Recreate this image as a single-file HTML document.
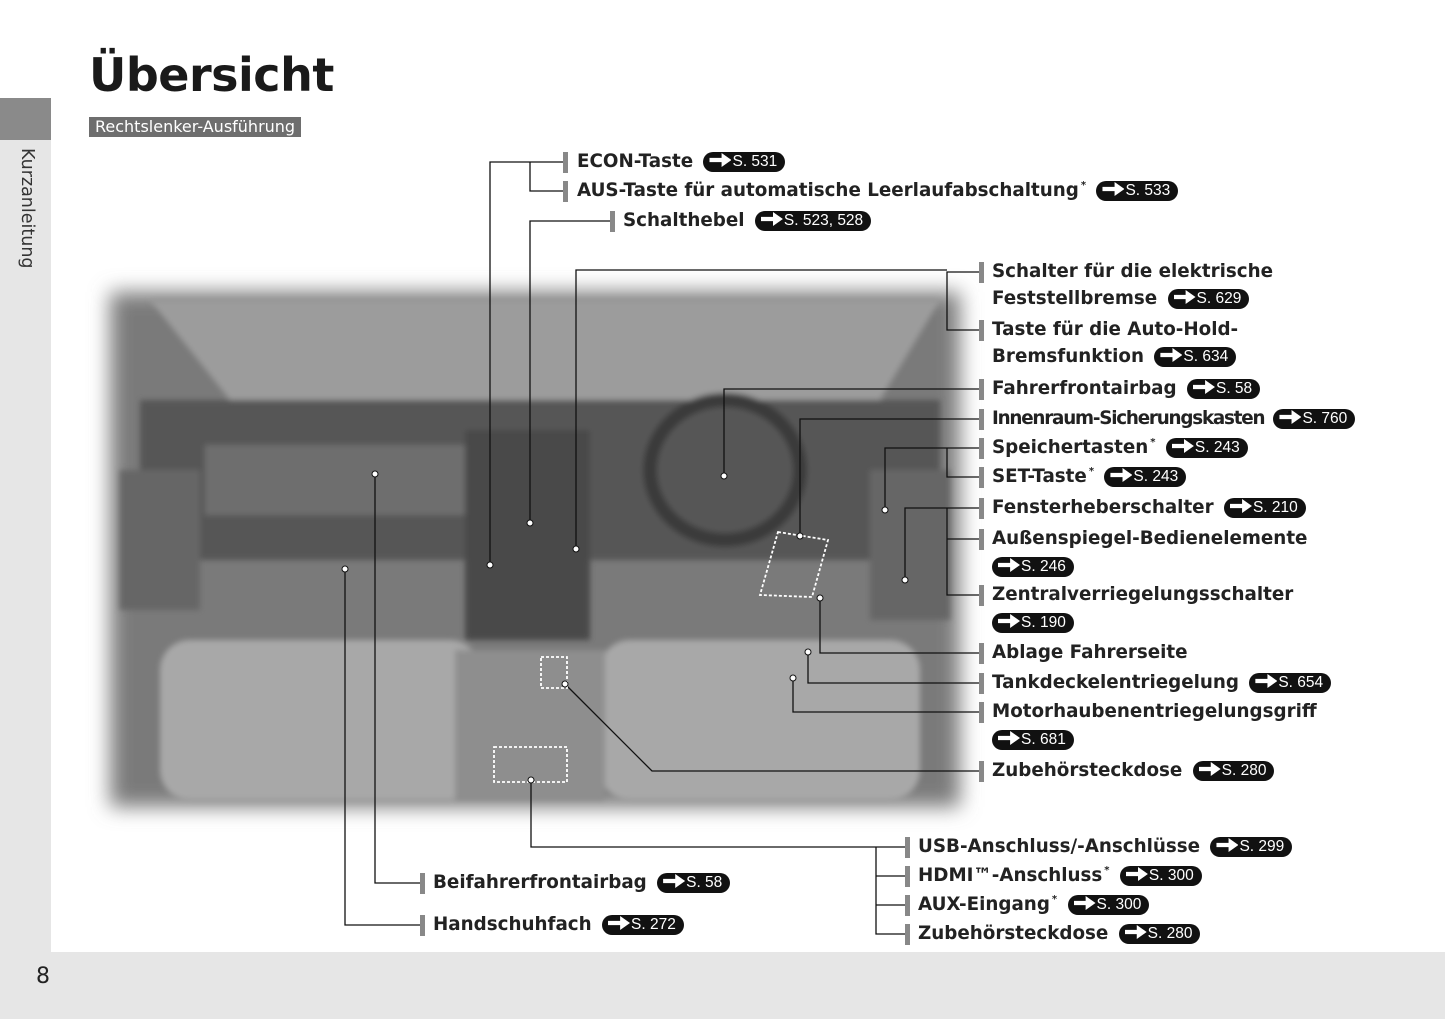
<!DOCTYPE html>
<html><head><meta charset="utf-8"><style>
body{margin:0;width:1445px;height:1019px;position:relative;background:#fff;overflow:hidden;font-family:"DejaVu Sans","Liberation Sans",sans-serif}
.t{position:absolute;font-weight:bold;font-size:18.3px;color:#222;white-space:nowrap;line-height:24px;transform:translateY(-12px)}
.bar{position:absolute;width:5px;height:21px;background:#888;transform:translateY(-10px)}
.b{display:inline-block;background:#111;color:#fff;border-radius:12px;font-weight:normal;font-size:15.5px;line-height:20px;padding:0 8px 0 6px;font-family:"Liberation Sans",sans-serif;vertical-align:1px;margin-left:4px}
.b i{font-style:normal;display:inline-block;width:22px;height:14px;background:#fff;clip-path:polygon(0 35%,55% 35%,55% 0,100% 50%,55% 100%,55% 65%,0 65%);margin-right:1px;vertical-align:-1px;border-radius:3px}
sup{font-size:10px;vertical-align:8px;margin-left:2px;line-height:0}
</style></head><body>
<div style="position:absolute;left:0;top:98px;width:51px;height:855px;background:#e6e6e6"></div>
<div style="position:absolute;left:0;top:98px;width:51px;height:42px;background:#8a8a8a"></div>
<div style="position:absolute;left:26px;top:148px;transform-origin:0 0;transform:rotate(90deg) translateY(-11px);font-size:17.5px;color:#333;font-family:'DejaVu Sans',sans-serif">Kurzanleitung</div>
<div style="position:absolute;left:0;top:952px;width:1445px;height:67px;background:#e6e6e6"></div>
<div style="position:absolute;left:36px;top:964px;font-size:22px;color:#222">8</div>
<div style="position:absolute;left:89px;top:48px;font-size:46px;font-weight:bold;color:#1a1a1a;letter-spacing:-0.5px">Übersicht</div>
<div style="position:absolute;left:89px;top:117px;width:212px;height:20px;background:#6e6e6e;color:#fff;font-size:16px;line-height:20px;padding-left:6px;box-sizing:border-box;white-space:nowrap">Rechtslenker-Ausführung</div>

<svg style="position:absolute;left:0;top:0" width="1445" height="1019">
<defs><filter id="bl"><feGaussianBlur stdDeviation="10"/></filter><filter id="b2"><feGaussianBlur stdDeviation="3"/></filter></defs>
<g filter="url(#bl)">
<rect x="110" y="292" width="850" height="515" fill="#7a7a7a"/>
</g>
<g filter="url(#b2)">
<path d="M150 300 L940 300 L880 400 L230 400 Z" fill="#9c9c9c"/>
<rect x="140" y="400" width="800" height="160" fill="#565656"/>
<rect x="205" y="445" width="265" height="70" fill="#6e6e6e"/>
<rect x="465" y="430" width="125" height="210" fill="#4a4a4a"/>
<ellipse cx="725" cy="470" rx="75" ry="70" fill="none" stroke="#3a3a3a" stroke-width="14"/>
<rect x="160" y="640" width="320" height="160" rx="30" fill="#a8a8a8"/>
<rect x="600" y="640" width="320" height="160" rx="30" fill="#a8a8a8"/>
<rect x="455" y="650" width="150" height="150" fill="#8e8e8e"/>
<rect x="120" y="470" width="80" height="140" fill="#666"/>
<rect x="870" y="470" width="80" height="150" fill="#666"/>
</g>
<g fill="none" stroke="#111" stroke-width="1.3">
<path d="M565 162H490V565M530 162V191H565M612 221H530V523"/>
<path d="M981 272H947V330H981M947 270H576V549"/>
<path d="M981 389H724V476M981 419H800V536"/>
<path d="M981 448H947V477H981M947 448H885V510"/>
<path d="M981 508H905V580M981 539H947V595H981M947 508V539"/>
<path d="M981 653H820V598M981 683H808V652M981 712H793V678M981 771H652L565 684"/>
<path d="M907 847H876V934H907M876 876H907M876 905H907M876 847H531V780"/>
<path d="M422 883H375V474M422 925H345V569"/>
</g>
<g fill="none" stroke="#fff" stroke-width="1.8" stroke-dasharray="3,2">
<rect x="541" y="657" width="26" height="31"/>
<rect x="494" y="747" width="73" height="35"/>
<path d="M778 532L828 540L812 597L760 595Z"/>
</g>
<g fill="#fff" stroke="#111" stroke-width="1">
<circle cx="490" cy="565" r="3"/><circle cx="530" cy="523" r="3"/><circle cx="576" cy="549" r="3"/>
<circle cx="724" cy="476" r="3"/><circle cx="800" cy="536" r="3"/><circle cx="885" cy="510" r="3"/>
<circle cx="905" cy="580" r="3"/><circle cx="820" cy="598" r="3"/><circle cx="808" cy="652" r="3"/>
<circle cx="793" cy="678" r="3"/><circle cx="565" cy="684" r="3"/><circle cx="531" cy="780" r="3"/>
<circle cx="375" cy="474" r="3"/><circle cx="345" cy="569" r="3"/>
</g>
</svg>

<div class="bar" style="left:563px;top:162px"></div><div class="t" style="left:577px;top:162px">ECON-Taste <span class="b"><i></i>S. 531</span></div>
<div class="bar" style="left:563px;top:191px"></div><div class="t" style="left:577px;top:191px">AUS-Taste für automatische Leerlaufabschaltung<sup>*</sup> <span class="b"><i></i>S. 533</span></div>
<div class="bar" style="left:610px;top:221px"></div><div class="t" style="left:623px;top:221px">Schalthebel <span class="b"><i></i>S. 523, 528</span></div>

<div class="bar" style="left:979px;top:272px"></div><div class="t" style="left:992px;top:272px">Schalter für die elektrische</div>
<div class="t" style="left:992px;top:299px">Feststellbremse <span class="b"><i></i>S. 629</span></div>
<div class="bar" style="left:979px;top:330px"></div><div class="t" style="left:992px;top:330px">Taste für die Auto-Hold-</div>
<div class="t" style="left:992px;top:357px">Bremsfunktion <span class="b"><i></i>S. 634</span></div>
<div class="bar" style="left:979px;top:389px"></div><div class="t" style="left:992px;top:389px">Fahrerfrontairbag <span class="b"><i></i>S. 58</span></div>
<div class="bar" style="left:979px;top:419px"></div><div class="t" style="left:992px;top:419px;letter-spacing:-1.2px">Innenraum-Sicherungskasten <span class="b" style="letter-spacing:0"><i></i>S. 760</span></div>
<div class="bar" style="left:979px;top:448px"></div><div class="t" style="left:992px;top:448px">Speichertasten<sup>*</sup> <span class="b"><i></i>S. 243</span></div>
<div class="bar" style="left:979px;top:477px"></div><div class="t" style="left:992px;top:477px">SET-Taste<sup>*</sup> <span class="b"><i></i>S. 243</span></div>
<div class="bar" style="left:979px;top:508px"></div><div class="t" style="left:992px;top:508px">Fensterheberschalter <span class="b"><i></i>S. 210</span></div>
<div class="bar" style="left:979px;top:539px"></div><div class="t" style="left:992px;top:539px">Außenspiegel-Bedienelemente</div>
<div class="t" style="left:988px;top:567px"><span class="b"><i></i>S. 246</span></div>
<div class="bar" style="left:979px;top:595px"></div><div class="t" style="left:992px;top:595px">Zentralverriegelungsschalter</div>
<div class="t" style="left:988px;top:623px"><span class="b"><i></i>S. 190</span></div>
<div class="bar" style="left:979px;top:653px"></div><div class="t" style="left:992px;top:653px">Ablage Fahrerseite</div>
<div class="bar" style="left:979px;top:683px"></div><div class="t" style="left:992px;top:683px">Tankdeckelentriegelung <span class="b"><i></i>S. 654</span></div>
<div class="bar" style="left:979px;top:712px"></div><div class="t" style="left:992px;top:712px">Motorhaubenentriegelungsgriff</div>
<div class="t" style="left:988px;top:740px"><span class="b"><i></i>S. 681</span></div>
<div class="bar" style="left:979px;top:771px"></div><div class="t" style="left:992px;top:771px">Zubehörsteckdose <span class="b"><i></i>S. 280</span></div>

<div class="bar" style="left:905px;top:847px"></div><div class="t" style="left:918px;top:847px">USB-Anschluss/-Anschlüsse <span class="b"><i></i>S. 299</span></div>
<div class="bar" style="left:905px;top:876px"></div><div class="t" style="left:918px;top:876px">HDMI™-Anschluss<sup>*</sup> <span class="b"><i></i>S. 300</span></div>
<div class="bar" style="left:905px;top:905px"></div><div class="t" style="left:918px;top:905px">AUX-Eingang<sup>*</sup> <span class="b"><i></i>S. 300</span></div>
<div class="bar" style="left:905px;top:934px"></div><div class="t" style="left:918px;top:934px">Zubehörsteckdose <span class="b"><i></i>S. 280</span></div>
<div class="bar" style="left:420px;top:883px"></div><div class="t" style="left:433px;top:883px">Beifahrerfrontairbag <span class="b"><i></i>S. 58</span></div>
<div class="bar" style="left:420px;top:925px"></div><div class="t" style="left:433px;top:925px">Handschuhfach <span class="b"><i></i>S. 272</span></div>
</body></html>
